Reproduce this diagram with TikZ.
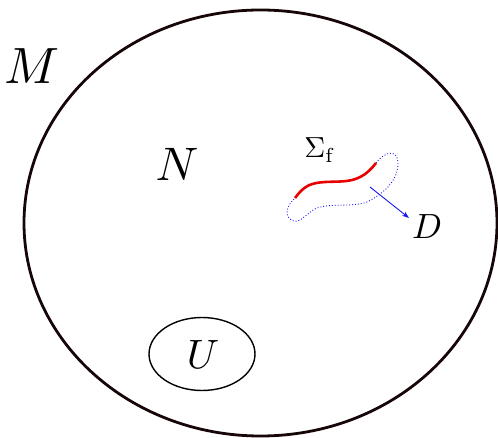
\documentclass[tikz,border=0pt]{standalone}
\usepackage{graphicx}
\usetikzlibrary{arrows.meta}
\definecolor{outline}{RGB}{22,6,8}
\definecolor{redcurve}{RGB}{232,0,0}
\definecolor{bluecurve}{RGB}{20,20,245}
\begin{document}
\begin{tikzpicture}[x=1pt,y=-1pt,
  bigset/.style={draw=outline,line width=2.8pt},
  smallset/.style={draw=black,line width=1.4pt},
  lbl/.style={inner sep=0pt,anchor=center},
  surf/.style={draw=redcurve,line width=2.6pt},
  loopline/.style={draw=bluecurve,line width=0.9pt,dotted},
  normal/.style={draw=bluecurve,line width=0.9pt,-{Stealth[length=7pt,width=5pt]}}]
\useasboundingbox (0,0) rectangle (498,438);
% outer set
\draw[bigset] (260.5,223) ellipse [x radius=236.5, y radius=213];
% subset U
\draw[smallset] (202,354) ellipse [x radius=53, y radius=36.5];
% labels
\node[lbl] (M) at (32,66) {\scalebox{5.1}{$M$}};
\node[lbl] (N) at (177,164) {\scalebox{4.7}{$N$}};
\node[lbl] (U) at (203,354) {\scalebox{4.1}{$U$}};
\node[lbl] (D) at (427,227) {\scalebox{3.5}{$D$}};
\node[lbl] (S) at (320,150) {\scalebox{2.9}{$\Sigma_{\mathrm{f}}$}};
% dotted loop D
\draw[loopline] (376,163) .. controls (386,150) and (398,150) .. (398,163)
  .. controls (398,180) and (385,193) .. (367,202)
  .. controls (350,208) and (326,202) .. (313,210)
  .. controls (302,218) and (298,225) .. (290,219)
  .. controls (284,214) and (288,204) .. (295,198);
% red surface piece
\draw[surf] (295,198) .. controls (304,186) and (310,183) .. (325,182)
  .. controls (345,181) and (360,184) .. (376,163);
% normal arrow
\coordinate (a0) at (370,187);
\coordinate (a1) at (409,218);
\draw[normal] (a0) -- (a1);
\end{tikzpicture}
\end{document}
